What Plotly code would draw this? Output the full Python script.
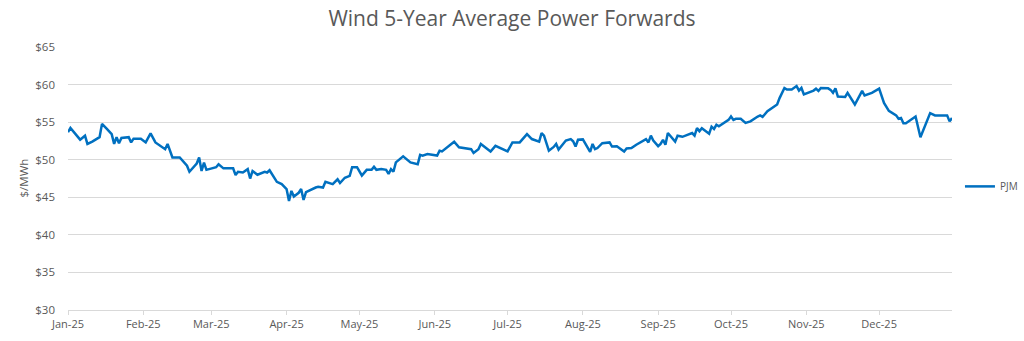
import plotly.graph_objects as go

dates = [
    "2025-01-01", "2025-01-02", "2025-01-06", "2025-01-08", "2025-01-09", "2025-01-11",
    "2025-01-14", "2025-01-15", "2025-01-17", "2025-01-19", "2025-01-20", "2025-01-21",
    "2025-01-22", "2025-01-23", "2025-01-26", "2025-01-27", "2025-01-28", "2025-01-31",
    "2025-02-02", "2025-02-04", "2025-02-06", "2025-02-10", "2025-02-11", "2025-02-13",
    "2025-02-16", "2025-02-19", "2025-02-20", "2025-02-23", "2025-02-24", "2025-02-25",
    "2025-02-26", "2025-02-27", "2025-03-03", "2025-03-04", "2025-03-06", "2025-03-10",
    "2025-03-11", "2025-03-12", "2025-03-14", "2025-03-16", "2025-03-17", "2025-03-18",
    "2025-03-20", "2025-03-23", "2025-03-24", "2025-03-25", "2025-03-28", "2025-03-30",
    "2025-04-01", "2025-04-02", "2025-04-03", "2025-04-04", "2025-04-06", "2025-04-07",
    "2025-04-08", "2025-04-09", "2025-04-13", "2025-04-14", "2025-04-16", "2025-04-17",
    "2025-04-20", "2025-04-22", "2025-04-23", "2025-04-25", "2025-04-27", "2025-04-28",
    "2025-04-30", "2025-05-02", "2025-05-04", "2025-05-06", "2025-05-07", "2025-05-08",
    "2025-05-10", "2025-05-12", "2025-05-13", "2025-05-14", "2025-05-15", "2025-05-16",
    "2025-05-19", "2025-05-22", "2025-05-25", "2025-05-26", "2025-05-27", "2025-05-29",
    "2025-06-02", "2025-06-03", "2025-06-04", "2025-06-09", "2025-06-11", "2025-06-13",
    "2025-06-16", "2025-06-17", "2025-06-19", "2025-06-20", "2025-06-22", "2025-06-24",
    "2025-06-26", "2025-06-29", "2025-07-01", "2025-07-03", "2025-07-06", "2025-07-09",
    "2025-07-11", "2025-07-14", "2025-07-15", "2025-07-16", "2025-07-18", "2025-07-20",
    "2025-07-21", "2025-07-22", "2025-07-25", "2025-07-27", "2025-07-28", "2025-07-29",
    "2025-07-30", "2025-08-01", "2025-08-04", "2025-08-05", "2025-08-06", "2025-08-07",
    "2025-08-09", "2025-08-12", "2025-08-13", "2025-08-15", "2025-08-18", "2025-08-19",
    "2025-08-21", "2025-08-23", "2025-08-27", "2025-08-28", "2025-08-29", "2025-08-30",
    "2025-09-01", "2025-09-02", "2025-09-03", "2025-09-04", "2025-09-05", "2025-09-08",
    "2025-09-09", "2025-09-11", "2025-09-15", "2025-09-16", "2025-09-17", "2025-09-18",
    "2025-09-19", "2025-09-22", "2025-09-23", "2025-09-24", "2025-09-25", "2025-09-26",
    "2025-09-28", "2025-09-30", "2025-10-01", "2025-10-02", "2025-10-03", "2025-10-05",
    "2025-10-07", "2025-10-09", "2025-10-12", "2025-10-13", "2025-10-14", "2025-10-16",
    "2025-10-20", "2025-10-21", "2025-10-23", "2025-10-24", "2025-10-26", "2025-10-28",
    "2025-10-29", "2025-10-30", "2025-10-31", "2025-11-03", "2025-11-04", "2025-11-05",
    "2025-11-06", "2025-11-07", "2025-11-10", "2025-11-11", "2025-11-12", "2025-11-13",
    "2025-11-14", "2025-11-17", "2025-11-18", "2025-11-21", "2025-11-24", "2025-11-25",
    "2025-11-28", "2025-12-01", "2025-12-03", "2025-12-05", "2025-12-08", "2025-12-09",
    "2025-12-10", "2025-12-11", "2025-12-12", "2025-12-16", "2025-12-18", "2025-12-22",
    "2025-12-24", "2025-12-29", "2025-12-30", "2025-12-31",
]

pjm = [
    53.66, 54.24, 52.67, 53.2, 52.1, 52.4,
    53.0, 54.77, 54.1, 53.4, 52.1, 53.0,
    52.2, 52.9, 53.0, 52.3, 52.8, 52.8,
    52.3, 53.5, 52.3, 51.4, 52.1, 50.3,
    50.3, 49.2, 48.4, 49.5, 50.3, 48.5,
    49.6, 48.65, 49.0, 49.4, 48.85, 48.85,
    47.95, 48.4, 48.3, 48.75, 47.5, 48.5,
    48.0, 48.4, 48.3, 48.6, 47.05, 46.75,
    46.1, 44.5, 45.85, 45.1, 45.6, 46.1,
    44.65, 45.7, 46.3, 46.4, 46.3, 47.05,
    46.75, 47.4, 46.9, 47.6, 47.85, 49.0,
    49.0, 47.9, 48.65, 48.65, 49.05, 48.65,
    48.75, 48.65, 48.1, 48.75, 48.4, 49.65,
    50.45, 49.65, 49.4, 50.65, 50.55, 50.75,
    50.55, 51.2, 51.1, 52.4, 51.65, 51.55,
    51.4, 50.9, 51.4, 52.1, 51.65, 51.1,
    51.85, 51.4, 51.1, 52.3, 52.3, 53.4,
    52.75, 52.4, 53.55, 53.2, 51.2, 51.7,
    52.1, 51.35, 52.55, 52.75, 52.45, 51.75,
    52.65, 52.7, 51.05, 52.1, 51.4, 51.55,
    52.2, 52.3, 51.75, 51.8, 51.1, 51.5,
    51.55, 52.0, 52.75, 52.3, 53.2, 52.55,
    51.8, 52.1, 52.65, 52.0, 53.55, 52.4,
    53.2, 53.05, 53.55, 53.2, 54.2, 53.8,
    54.2, 53.45, 54.4, 54.1, 54.65, 54.45,
    54.85, 55.3, 55.75, 55.3, 55.45, 55.45,
    54.9, 55.1, 55.75, 55.9, 55.7, 56.45,
    57.35, 58.2, 59.55, 59.35, 59.35, 59.8,
    59.2, 59.55, 58.7, 59.0, 59.2, 59.45,
    59.15, 59.55, 59.5, 59.3, 58.9, 59.5,
    58.4, 58.35, 58.9, 57.35, 59.15, 58.55,
    58.9, 59.45, 57.55, 56.5, 55.9, 55.45,
    55.55, 54.85, 54.85, 55.75, 53.0, 56.2,
    55.9, 55.9, 55.1, 55.55,
]

series_name = "PJM"
title_text = "Wind 5-Year Average Power Forwards"
y_title = "$/MWh"

GRID = "#d9d9d9"
TXT = "#595959"
FONT = "Open Sans"

fig = go.Figure()
fig.add_trace(go.Scatter(
    x=dates, y=pjm, mode="lines", name=series_name,
    line=dict(color="#0070C0", width=2.5),
))

fig.update_layout(
    width=1024, height=341,
    margin=dict(l=68, r=72, t=47, b=31, autoexpand=False),
    paper_bgcolor="white", plot_bgcolor="white",
    font=dict(family=FONT, size=11, color=TXT),
    title=dict(text=title_text, x=0.5, xanchor="center", y=0.945, yanchor="middle",
               font=dict(family=FONT, size=21, color=TXT)),
    showlegend=True,
    legend=dict(x=1.009, xanchor="left", y=0.47, yanchor="middle",
                font=dict(family=FONT, size=10, color=TXT),
                bgcolor="rgba(0,0,0,0)"),
    annotations=[dict(
        text=y_title, xref="paper", yref="paper", x=0, y=0.5,
        xanchor="center", yanchor="middle", xshift=-45, textangle=-90,
        showarrow=False, font=dict(family=FONT, size=11.5, color=TXT),
    )],
)

fig.update_xaxes(
    type="date", range=["2025-01-01", "2025-12-31"],
    tick0="2025-01-01", dtick="M1", tickformat="%b-%y",
    showgrid=False, showline=True, linecolor=GRID, linewidth=1,
    ticks="outside", ticklen=4, tickcolor=GRID,
    tickfont=dict(family=FONT, size=11, color=TXT),
)
fig.update_yaxes(
    range=[30, 65], dtick=5, tickprefix="$",
    showgrid=True, gridcolor=GRID, gridwidth=1, zeroline=False,
    showline=False, ticks="", ticklabelstandoff=12,
    tickfont=dict(family=FONT, size=11.5, color=TXT),
)

fig.write_html("out.html")
